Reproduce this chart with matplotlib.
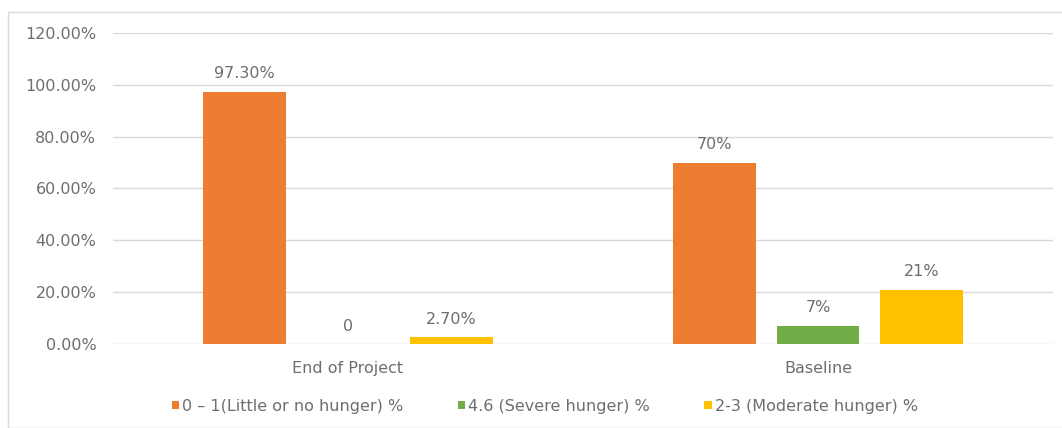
import numpy as np
import matplotlib.pyplot as plt
from matplotlib.patches import Rectangle

# data
categories = ["End of Project", "Baseline"]
series_names = ["0 \u2013 1(Little or no hunger) %", "4.6 (Severe hunger) %", "2-3 (Moderate hunger) %"]
little = [97.3, 70]
severe = [0, 7]
moderate = [2.7, 21]
labels = [["97.30%", "70%"], ["0", "7%"], ["2.70%", "21%"]]
colors = ["#ED7D31", "#70AD47", "#FFC000"]
yticks = [0, 20, 40, 60, 80, 100, 120]

plt.rcParams['font.family'] = ['DejaVu Sans']
txt = "#6E6E6E"
fs = 11.5

fig = plt.figure(figsize=(10.62, 4.28), dpi=100)
ax = fig.add_axes([113 / 1062, 1 - 344 / 428, 940 / 1062, 311 / 428])

# light frame like the source screenshot
fig.patches.append(Rectangle((8 / 1062, 0), 1.0, 1 - 12 / 428, transform=fig.transFigure,
                             fill=False, edgecolor="#D9D9D9", linewidth=1.0))

x = np.arange(len(categories))
step = 0.22
width = 0.175
for i, vals in enumerate([little, severe, moderate]):
    pos = x + (i - 1) * step
    ax.bar(pos, vals, width=width, color=colors[i], label=series_names[i], zorder=3)
    for p, v, lab in zip(pos, vals, labels[i]):
        ax.text(p, v + 4, lab, ha="center", va="bottom", fontsize=fs, color=txt)

ax.set_xlim(-0.5, 1.5)
ax.set_ylim(0, 120)
ax.set_yticks(yticks)
ax.set_yticklabels([f"{t:.2f}%" for t in yticks])
ax.set_xticks(x)
ax.set_xticklabels(categories)
ax.tick_params(axis="both", length=0, labelsize=fs, labelcolor=txt)
ax.tick_params(axis="y", pad=12)
ax.tick_params(axis="x", pad=12)
ax.grid(axis="y", color="#D9D9D9", linewidth=1, zorder=0)
for s in ax.spines.values():
    s.set_visible(False)

fig.legend(loc="center", bbox_to_anchor=(545 / 1062, 1 - 406 / 428), ncol=3,
           frameon=False, fontsize=fs, labelcolor=txt, handlelength=0.45, handleheight=0.45,
           handletextpad=0.2, columnspacing=3.4)

fig.savefig("out.png", dpi=100)
